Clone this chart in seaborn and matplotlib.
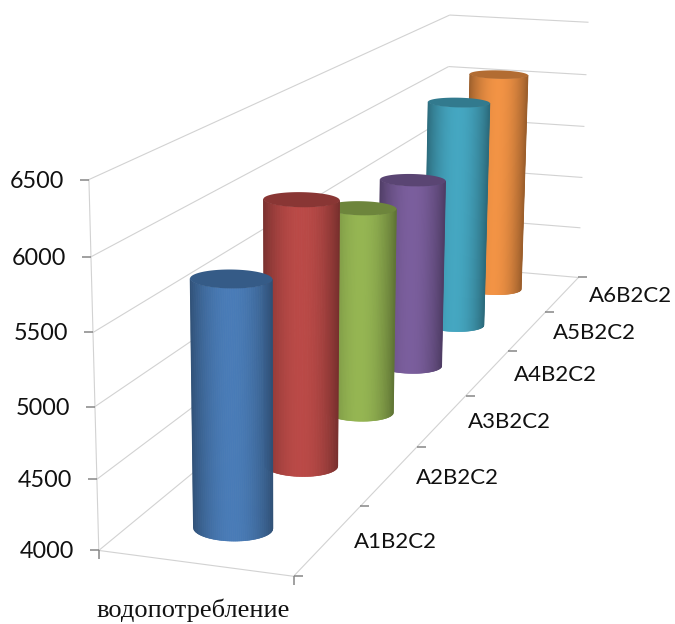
import numpy as np
import matplotlib
matplotlib.use("Agg")
import matplotlib.pyplot as plt
from matplotlib.collections import PolyCollection
from matplotlib.colors import to_rgb
import seaborn as sns

categories = ["A1B2C2", "A2B2C2", "A3B2C2", "A4B2C2", "A5B2C2", "A6B2C2"]
water_use = [5750, 6000, 5650, 5600, 6025, 6065]
bar_colors = ["#4a7ebb", "#be4b48", "#98b954", "#7d60a0", "#46aac5", "#f79646"]
value_ticks = [4000, 4500, 5000, 5500, 6000, 6500]
series_label = "водопотребление"

Z_MIN, Z_MAX = value_ticks[0], value_ticks[-1]
DEPTH = len(categories)

sns.set_theme(style="white")

# Anchor points of the plot box: (width, depth, value) -> canvas position.
anchors = [
    ((0, 0, 4000), (98, 550)), ((1, 0, 4000), (295, 577)),
    ((1, 1, 4000), (360, 505)), ((1, 2, 4000), (416, 447)),
    ((1, 3, 4000), (466, 397)), ((1, 4, 4000), (509, 352)),
    ((1, 5, 4000), (545, 312)), ((1, 6, 4000), (578, 277)),
    ((0, 0, 4500), (97, 479)), ((0, 0, 5500), (93, 332)),
    ((0, 0, 6000), (91, 257)), ((0, 0, 6500), (88.5, 180)),
    ((0, 6, 6500), (450, 15)), ((0, 6, 6000), (449, 67)),
    ((1, 6, 6500), (588, 22)), ((1, 6, 6000), (587, 75)),
    ((1, 6, 5500), (584, 126)), ((1, 6, 5000), (582, 177)),
    ((1, 6, 4500), (581, 228)),
]


def fit_camera(pairs):
    rows = []
    for (x, y, z), (u, v) in pairs:
        w = (z - Z_MIN) / (Z_MAX - Z_MIN)
        rows.append([x, y, w, 1, 0, 0, 0, 0, -u * x, -u * y, -u * w, -u])
        rows.append([0, 0, 0, 0, x, y, w, 1, -v * x, -v * y, -v * w, -v])
    return np.linalg.svd(np.array(rows))[2][-1].reshape(3, 4)


CAMERA = fit_camera(anchors)


def scene(x, y, z):
    """Map box coordinates (width, depth, value) onto the canvas."""
    x, y, z = np.broadcast_arrays(x, y, z)
    w = (np.asarray(z, float) - Z_MIN) / (Z_MAX - Z_MIN)
    pts = np.stack([x, y, w, np.ones_like(w)], axis=-1) @ CAMERA.T
    return pts[..., :2] / pts[..., 2:3]


def front_arc(ring, fractions):
    """Near half of a projected circle, sampled across its screen width."""
    start = np.argmin(ring[:, 0])
    loop = np.roll(ring[:-1], -start, axis=0)
    end = np.argmax(loop[:, 0])
    first, second = loop[:end + 1], np.vstack([loop[end:], loop[:1]])[::-1]
    arc = first if first[:, 1].mean() > second[:, 1].mean() else second
    order = np.argsort(arc[:, 0])
    xs = arc[0, 0] + (arc[-1, 0] - arc[0, 0]) * fractions
    xs = arc[:, 0].min() + np.ptp(arc[:, 0]) * fractions
    return np.column_stack([xs, np.interp(xs, arc[order, 0], arc[order, 1])])


fig, ax = plt.subplots(figsize=(6.75, 6.24), dpi=100)
ax.set_position([0, 0, 1, 1])
ax.set_xlim(0, 675)
ax.set_ylim(624, 0)
ax.axis("off")

GRID = "#d2d2d2"
TICK = "#868686"


def line(p, q, color=GRID, lw=0.8, z=1):
    ax.plot([p[0], q[0]], [p[1], q[1]], color=color, lw=lw, zorder=z,
            solid_capstyle="butt")


# Walls and floor outline
for v in value_ticks:
    line(scene(0, 0, v), scene(0, DEPTH, v))
    line(scene(0, DEPTH, v), scene(1, DEPTH, v))
line(scene(0, 0, Z_MIN), scene(0, 0, Z_MAX))
line(scene(0, 0, Z_MIN), scene(1, 0, Z_MIN))
line(scene(1, 0, Z_MIN), scene(1, DEPTH, Z_MIN))

# Axis ticks
for v in value_ticks:
    p = scene(0, 0, v)
    line(p, p + [-9, 0], TICK, 1.1, 2)
    ax.text(p[0] - 25, p[1] + 1.5, f"{v}", ha="right", va="center",
            fontsize=16.8, family="Lato", color="#111111")
for d in range(DEPTH + 1):
    p = scene(1, d, Z_MIN)
    line(p, p + [9, 0], TICK, 1.1, 2)
for corner in (scene(0, 0, Z_MIN), scene(1, 0, Z_MIN)):
    line(corner, corner + [0, 9], TICK, 1.1, 2)

for i, name in enumerate(categories):
    p = scene(1, i + 0.5, Z_MIN)
    ax.text(p[0] + 26, p[1] + 2, name, ha="left", va="center",
            fontsize=16, family="Lato", color="#111111")

ax.text(193, 610, series_label, ha="center", va="center",
        fontsize=19, family="Liberation Serif", color="#111111")

# Cylinders, from the back of the box to the front
RX, RY = 0.2, 0.18
theta = np.linspace(0, 2 * np.pi, 721)
fractions = np.linspace(0, 1, 121)
palette = sns.color_palette(bar_colors)

for i in reversed(range(DEPTH)):
    cx = 0.5 + RX * np.cos(theta)
    cy = i + 0.5 + RY * np.sin(theta)
    high_ring = scene(cx, cy, water_use[i])
    low = front_arc(scene(cx, cy, Z_MIN), fractions)
    high = front_arc(high_ring, fractions)
    base = np.array(to_rgb(palette[i]))

    # The wall is a row of narrow strips, darkening towards both edges
    mid = (fractions[:-1] + fractions[1:]) / 2
    light = 0.62 + 0.36 * np.sin(np.pi * mid) ** 0.8
    strips = [[low[k], low[k + 1], high[k + 1], high[k]] for k in range(len(mid))]
    colors = [tuple(np.clip(base * s, 0, 1)) for s in light]
    ax.add_collection(PolyCollection(strips, facecolors=colors, edgecolors=colors,
                                     linewidths=0.4, zorder=10 + 2 * (DEPTH - i)))
    ax.fill(high_ring[:, 0], high_ring[:, 1], color=tuple(base * 0.72), lw=0,
            zorder=11 + 2 * (DEPTH - i))

fig.savefig("out.png", dpi=100)
